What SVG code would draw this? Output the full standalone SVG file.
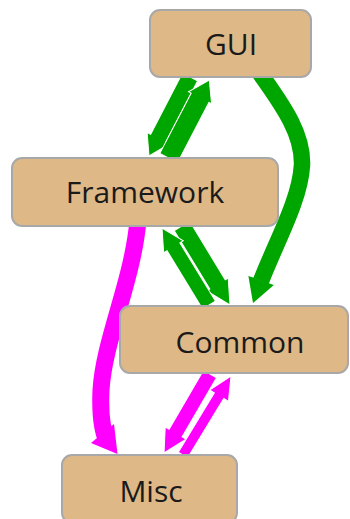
<svg xmlns="http://www.w3.org/2000/svg" width="350" height="519" viewBox="0 0 350 519">
<style>
.node rect{fill:#deb887;stroke:#a8a8a8;stroke-width:2}
.node text{font-family:"Open Sans","Noto Sans","DejaVu Sans",sans-serif;font-size:30px;fill:#1a1a1a;text-anchor:middle}
.g{fill:#00a600;stroke:#fff;stroke-width:1;stroke-linejoin:miter}
.m{fill:#ff00ff;stroke:#fff;stroke-width:1}
.gs{fill:none;stroke:#00a600;stroke-width:16.5}
.ms{fill:none;stroke:#ff00ff;stroke-width:17}
.gh{fill:#00a600}
.mh{fill:#ff00ff}
</style>
<g id="connectors">
  <!-- GUI -> Common (curved) -->
  <path class="gs" d="M259,72 C285,108 303,135 302,165 C300,200 277,240 261,281"/>
  <polygon class="gh" points="248.4,275.9 273.8,284.9 253,303"/>
  <!-- Framework -> Misc (curved) -->
  <path class="ms" d="M138,220 C133,280 104,340 101,390 C100,412 101,428 107,441"/>
  <polygon class="mh" points="91,443 114,424 117.5,454"/>
  <!-- GUI -> Framework -->
  <path class="g" transform="translate(190,77) rotate(117.43)" d="M0,-8.5 H69 V-12.5 L89,0 L69,12.5 V8.5 H0 Z"/>
  <!-- Framework -> GUI -->
  <path class="g" transform="translate(168.7,158) rotate(-62.5)" d="M0,-10 H67.9 V-13 L87.9,0 L67.9,13 V10 H0 Z"/>
  <!-- Framework -> Common -->
  <path class="g" transform="translate(182,226) rotate(58.7)" d="M0,-9 H68.4 V-12.5 L92.4,0 L68.4,12.5 V9 H0 Z"/>
  <!-- Common -> Framework -->
  <path class="g" transform="translate(209,305) rotate(-121.4)" d="M0,-7.5 H68.2 V-11.5 L90.2,0 L68.2,11.5 V7.5 H0 Z"/>
  <!-- Common -> Misc -->
  <path class="m" transform="translate(210,374) rotate(120.2)" d="M0,-7.5 H68.4 V-12 L91.4,0 L68.4,12 V7.5 H0 Z"/>
  <!-- Misc -> Common -->
  <path class="m" transform="translate(183,455) rotate(-58.7)" d="M0,-5.5 H69.4 V-11 L92.4,0 L69.4,11 V5.5 H0 Z"/>
</g>
<g id="GUI" class="node">
  <rect x="150" y="10" width="161" height="67" rx="10"/>
  <text x="231" y="55">GUI</text>
</g>
<g id="Framework" class="node">
  <rect x="12" y="158" width="266" height="68" rx="10"/>
  <text x="145" y="203">Framework</text>
</g>
<g id="Common" class="node">
  <rect x="120" y="306" width="228" height="67" rx="10"/>
  <text x="240" y="353">Common</text>
</g>
<g id="Misc" class="node">
  <rect x="62" y="455" width="175" height="68" rx="10"/>
  <text x="151" y="501.5">Misc</text>
</g>
</svg>
